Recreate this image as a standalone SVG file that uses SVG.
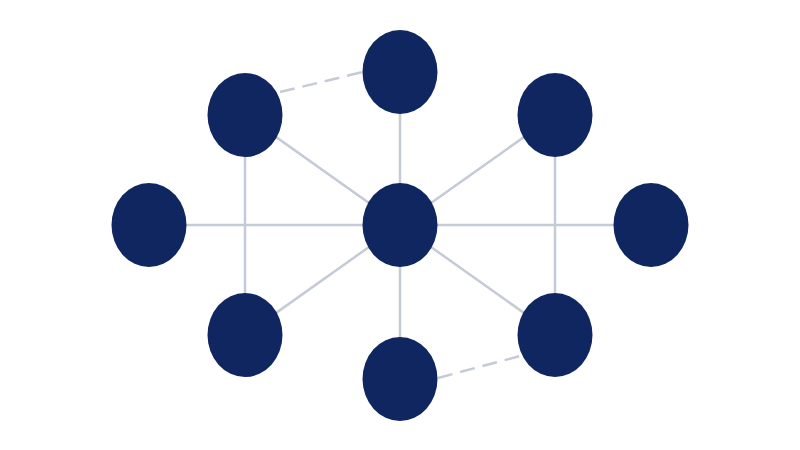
<svg xmlns="http://www.w3.org/2000/svg" width="800" height="450" viewBox="0 0 800 450">
<style>
.edge{stroke:#c5cad7;stroke-width:2.5;fill:none}
.dash{stroke-dasharray:15 8}
.node{fill:#0f2660}
</style>
<rect width="800" height="450" fill="#ffffff"/>
<g id="connectors">
<line class="edge" x1="149" y1="225" x2="651" y2="225"/>
<line class="edge" x1="400" y1="72" x2="400" y2="379"/>
<line class="edge" x1="245" y1="115" x2="245" y2="335"/>
<line class="edge" x1="555" y1="115" x2="555" y2="335"/>
<line class="edge" x1="245" y1="115" x2="400" y2="225"/>
<line class="edge" x1="555" y1="115" x2="400" y2="225"/>
<line class="edge" x1="245" y1="335" x2="400" y2="225"/>
<line class="edge" x1="555" y1="335" x2="400" y2="225"/>
<line class="edge dash" x1="280" y1="92" x2="363" y2="72"/>
<line class="edge dash" x1="438" y1="378" x2="520" y2="356"/>
</g>
<g id="n-center"><ellipse class="node" cx="400" cy="225" rx="37.5" ry="42"/></g>
<g id="n-top"><ellipse class="node" cx="400" cy="72" rx="37.5" ry="42"/></g>
<g id="n-bottom"><ellipse class="node" cx="400" cy="379" rx="37.5" ry="42"/></g>
<g id="n-left"><ellipse class="node" cx="149" cy="225" rx="37.5" ry="42"/></g>
<g id="n-right"><ellipse class="node" cx="651" cy="225" rx="37.5" ry="42"/></g>
<g id="n-topleft"><ellipse class="node" cx="245" cy="115" rx="37.5" ry="42"/></g>
<g id="n-topright"><ellipse class="node" cx="555" cy="115" rx="37.5" ry="42"/></g>
<g id="n-bottomleft"><ellipse class="node" cx="245" cy="335" rx="37.5" ry="42"/></g>
<g id="n-bottomright"><ellipse class="node" cx="555" cy="335" rx="37.5" ry="42"/></g>
</svg>
